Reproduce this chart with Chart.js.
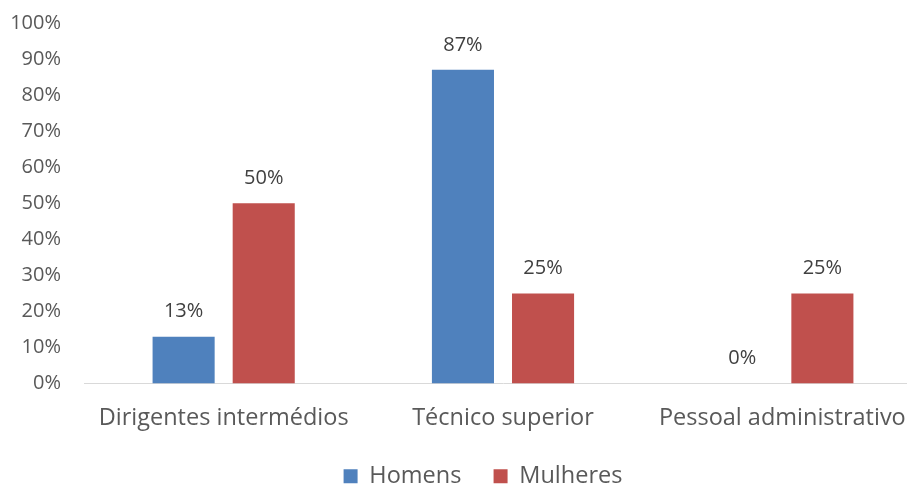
<!DOCTYPE html>
<html>
<head>
<meta charset="utf-8">
<script src="https://cdn.jsdelivr.net/npm/chart.js@4/dist/chart.umd.min.js"></script>
<style>
  body { margin: 0; overflow: hidden; background: #fff; }
  #wrap { width: 966px; height: 487px; }
</style>
</head>
<body>
<div id="wrap"><canvas id="myChart" width="966" height="487"></canvas></div>
<script>
const categories = ['Dirigentes intermédios', 'Técnico superior', 'Pessoal administrativo'];
const homens = [13, 87, 0];
const mulheres = [50, 25, 25];
const seriesNames = ['Homens', 'Mulheres'];

const FONT = '"Open Sans", sans-serif';

// writes the value above each bar
const barLabels = {
    id: 'barLabels',
    afterDatasetsDraw(chart) {
        const ctx = chart.ctx;
        ctx.save();
        ctx.font = '20px ' + FONT;
        ctx.fillStyle = '#404040';
        ctx.textAlign = 'center';
        ctx.textBaseline = 'middle';
        chart.data.datasets.forEach((ds, i) => {
            chart.getDatasetMeta(i).data.forEach((bar, j) => {
                ctx.fillText(ds.data[j] + '%', bar.x, bar.y - 25);
            });
        });
        ctx.restore();
    }
};

const ctx = document.getElementById('myChart').getContext('2d');
const myChart = new Chart(ctx, {
    type: 'bar',
    data: {
        labels: categories,
        datasets: [
            {
                label: seriesNames[0],
                data: homens,
                backgroundColor: '#4F81BD',
                categoryPercentage: 0.5735,
                barPercentage: 0.775
            },
            {
                label: seriesNames[1],
                data: mulheres,
                backgroundColor: '#C0504D',
                categoryPercentage: 0.5735,
                barPercentage: 0.775
            }
        ]
    },
    options: {
        responsive: false,
        animation: false,
        layout: {
            padding: { top: 23, left: 0, right: 0, bottom: -11 }
        },
        plugins: {
            legend: {
                position: 'bottom',
                labels: {
                    boxWidth: 14,
                    boxHeight: 14,
                    padding: 20,
                    color: '#595959',
                    font: { family: FONT, size: 23.5 },
                    // extra room between the two entries
                    generateLabels(chart) {
                        const items = Chart.defaults.plugins.legend.labels.generateLabels(chart);
                        items[0].text += '  ';
                        return items;
                    }
                }
            },
            tooltip: { enabled: false }
        },
        scales: {
            x: {
                grid: { display: false, drawTicks: false },
                border: { color: '#d9d9d9', width: 1 },
                ticks: {
                    color: '#595959',
                    padding: 21,
                    font: { family: FONT, size: 23.5 }
                },
                afterFit(scale) { scale.height = 61; }
            },
            y: {
                min: 0,
                max: 100,
                // invisible tick marks just push the labels away from the plot
                grid: { display: false, drawTicks: true, tickLength: 23 },
                border: { display: false },
                ticks: {
                    stepSize: 10,
                    color: '#595959',
                    padding: 0,
                    font: { family: FONT, size: 20 },
                    callback: (v) => v + '%'
                },
                afterFit(scale) { scale.width = 84; }
            },
            // empty right-hand strip so the plot ends past the visible edge
            yRight: {
                position: 'right',
                min: 0,
                max: 100,
                grid: { display: false, drawTicks: false },
                border: { display: false },
                ticks: { display: false },
                afterFit(scale) { scale.width = 44; }
            }
        }
    },
    plugins: [barLabels]
});
</script>
</body>
</html>
